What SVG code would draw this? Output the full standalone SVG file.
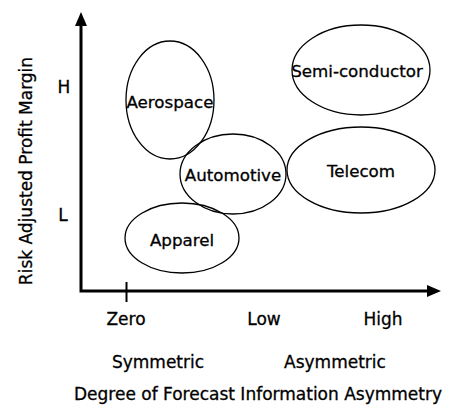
<svg xmlns="http://www.w3.org/2000/svg" width="449" height="405" viewBox="0 0 449 405">
<style>
.node ellipse{fill:none;stroke:#000;stroke-width:1.3}
.lbl{font-family:"DejaVu Sans","Verdana",sans-serif;font-size:16.7px;fill:#000;stroke:#000;stroke-width:0.3;text-anchor:middle}
.ax{font-family:"DejaVu Sans","Verdana",sans-serif;font-size:17px;fill:#000;stroke:#000;stroke-width:0.3;text-anchor:middle}
.axis{stroke:#000;stroke-width:3;fill:none}
</style>
<defs>
<marker id="ah" viewBox="0 0 14 12" refX="0" refY="6" markerWidth="14" markerHeight="12" markerUnits="userSpaceOnUse" orient="auto">
<path d="M0,0 L14,6 L0,12 Z" fill="#000"/>
</marker>
</defs>
<rect width="449" height="405" fill="#fff"/>
<g id="connectors">
<path class="axis" d="M81,26 L81,291 L427,291" marker-end="url(#ah)"/>
<path d="M75,26 L81,12 L87,26 Z" fill="#000"/>
<line x1="126.5" y1="282" x2="126.5" y2="302" stroke="#000" stroke-width="2"/>
</g>
<g id="aerospace" class="node"><ellipse cx="170" cy="100" rx="44" ry="59"/><text class="lbl" x="170" y="108">Aerospace</text></g>
<g id="semiconductor" class="node"><ellipse cx="361" cy="70" rx="69" ry="45"/><text class="lbl" x="357" y="77">Semi-conductor</text></g>
<g id="automotive" class="node"><ellipse cx="233" cy="174" rx="53" ry="40"/><text class="lbl" x="233" y="181">Automotive</text></g>
<g id="telecom" class="node"><ellipse cx="361" cy="170" rx="74" ry="43"/><text class="lbl" x="361" y="177">Telecom</text></g>
<g id="apparel" class="node"><ellipse cx="182" cy="238" rx="57" ry="35"/><text class="lbl" x="182" y="246">Apparel</text></g>
<g id="labels">
<text class="ax" x="64" y="93">H</text>
<text class="ax" x="63" y="221">L</text>
<text class="ax" transform="translate(32,171) rotate(-90)">Risk Adjusted Profit Margin</text>
<text class="ax" x="126" y="325">Zero</text>
<text class="ax" x="264" y="325">Low</text>
<text class="ax" x="383" y="325">High</text>
<text class="ax" x="158" y="368">Symmetric</text>
<text class="ax" x="335" y="368">Asymmetric</text>
<text class="ax" x="258" y="400">Degree of Forecast Information Asymmetry</text>
</g>
</svg>
